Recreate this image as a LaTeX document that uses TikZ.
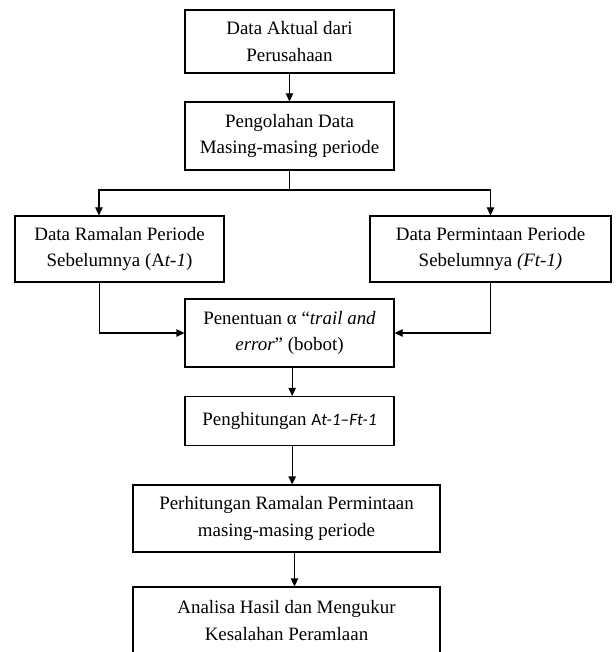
\documentclass[tikz,border=0pt]{standalone}
\usepackage{fontspec}
\setmainfont{Liberation Serif}
\newfontfamily\calfont{Carlito}
\usetikzlibrary{arrows.meta, positioning, calc}
\tikzset{
    flowbox/.style={rectangle, draw=black, line width=0.8pt, fill=white, align=center,
                    inner sep=2pt, font=\fontsize{14.2}{20}\selectfont},
    arrow/.style={-{Triangle[length=6pt, width=5.5pt]}, line width=0.8pt},
    plainline/.style={line width=0.8pt},
}

\begin{document}
\begin{tikzpicture}[x=0.75pt, y=-0.75pt]
            \clip (0,0) rectangle (615,652);
            \fill[white] (0,0) rectangle (615,652);

            % Top of the chart
            \node[flowbox, minimum width=156.75pt, minimum height=47.25pt] (aktual) at (289.5, 41.5) {Data Aktual dari\\Perusahaan};
            \node[flowbox, minimum width=156.75pt, minimum height=51pt] (olah) at (289.5, 136) {Pengolahan Data\\Masing-masing periode};

            % Two branches
            \node[flowbox, minimum width=156.75pt, minimum height=49.5pt] (ramalan) at (119.5, 249) {Data Ramalan Periode\\Sebelumnya (A\textit{t-1})};
            \node[flowbox, minimum width=180.75pt, minimum height=49.5pt] (minta) at (490.5, 249) {Data Permintaan Periode\\Sebelumnya \textit{(Ft-1)}};

            % Joined again
            \node[flowbox, minimum width=156.75pt, minimum height=51pt] (alpha) at (289.5, 333) {Penentuan α “\textit{trail and}\\\textit{error}” (bobot)};
            \node[flowbox, minimum width=156.75pt, minimum height=36.75pt] (hitung) at (289.5, 421) {Penghitungan {\calfont\fontsize{13}{15}\selectfont A\textit{t-1}–\textit{Ft-1}}};
            \node[flowbox, minimum width=230.25pt, minimum height=50.25pt] (perhitungan) at (286.5, 518.5) {Perhitungan Ramalan Permintaan\\masing-masing periode};
            \node[flowbox, minimum width=230.25pt, minimum height=50.25pt] (analisa) at (286.5, 620.5) {Analisa Hasil dan Mengukur\\Kesalahan Peramlaan};

            % Connectors
            \coordinate (split) at (289.5, 190);
            \draw[arrow] (aktual) -- (olah);
            \draw[plainline] (olah.south) -- (split);
            \draw[arrow] (split) -| ([xshift=-15.4pt]ramalan.north);
            \draw[arrow] (split) -| (minta.north);
            \draw[arrow] ([xshift=-15pt]ramalan.south) |- (alpha.west);
            \draw[arrow] (minta.south) |- (alpha.east);
            \draw[arrow] ([xshift=2pt]alpha.south) -- ([xshift=2pt]hitung.north);
            \draw[arrow] ([xshift=2pt]hitung.south) -- ([xshift=2pt]hitung.south |- perhitungan.north);
            \draw[arrow] ([xshift=6pt]perhitungan.south) -- ([xshift=6pt]analisa.north);
        \end{tikzpicture}
\end{document}
